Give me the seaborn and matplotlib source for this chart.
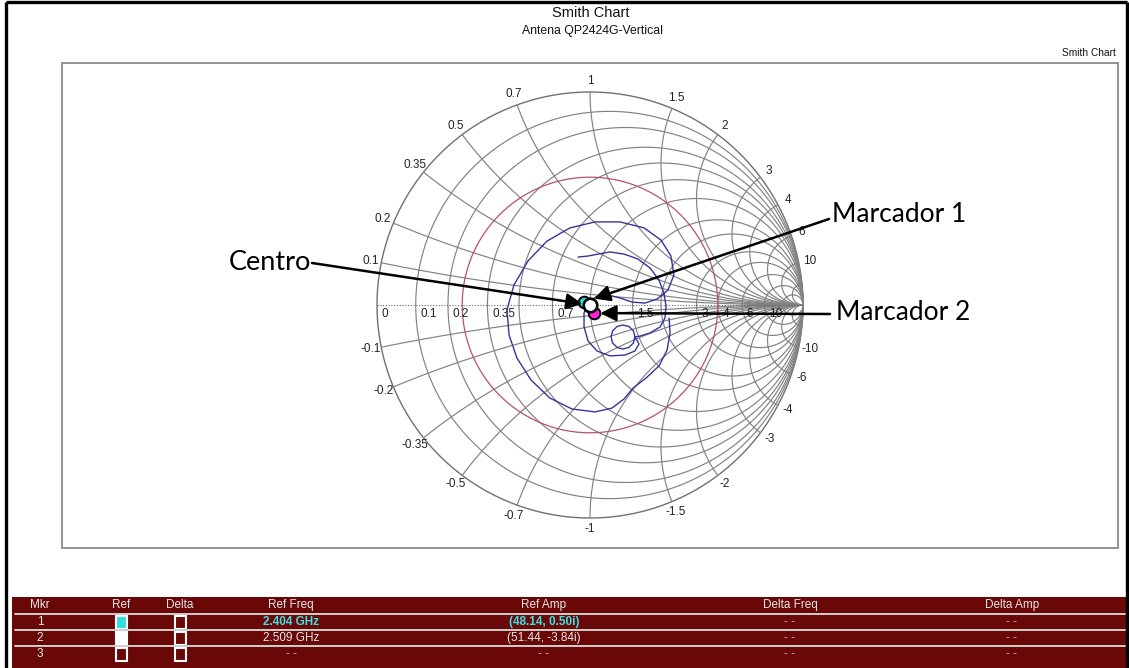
import numpy as np
import matplotlib
matplotlib.use("Agg")
import matplotlib.pyplot as plt
import seaborn as sns
from matplotlib import font_manager
from matplotlib.patches import Rectangle

# ------------------------------------------------------------------ data
title = "Smith Chart"
subtitle = "Antena QP2424G-Vertical"
corner_label = "Smith Chart"

resistance_values = [0.1, 0.2, 0.35, 0.5, 0.7, 1, 1.5, 2, 3, 4, 6, 10, 20]
reactance_values = [0.1, 0.2, 0.35, 0.5, 0.7, 1, 1.5, 2, 3, 4, 6, 10, 20]
resistance_labels = ["0", "0.1", "0.2", "0.35", "0.7", "1.5", "3", "4", "6", "10"]
reactance_labels = ["0.1", "0.2", "0.35", "0.5", "0.7", "1", "1.5", "2", "3", "4", "6", "10"]
vswr_gamma = 0.6

trace_re = [-0.056, -0.009, 0.038, 0.094, 0.160, 0.225, 0.282, 0.324, 0.347, 0.357,
            0.352, 0.329, 0.282, 0.235,
            0.211, 0.204, 0.183, 0.155, 0.127, 0.106, 0.099, 0.106, 0.127, 0.155,
            0.183, 0.204, 0.211, 0.230, 0.211, 0.164,
            0.094, 0.033, -0.009, -0.028, -0.028, -0.009, 0.028, 0.085, 0.141, 0.197,
            0.258, 0.315, 0.366, 0.394, 0.380, 0.333, 0.254, 0.141, 0.023, -0.094,
            -0.202, -0.291, -0.357, -0.390, -0.380, -0.343, -0.277, -0.188, -0.085, 0.023,
            0.103, 0.160, 0.202, 0.263, 0.324, 0.362, 0.376, 0.371]
trace_im = [0.225, 0.230, 0.239, 0.249, 0.239, 0.216, 0.174, 0.117, 0.056, -0.005,
            -0.061, -0.103, -0.131, -0.146,
            -0.150, -0.178, -0.199, -0.207, -0.199, -0.178, -0.150, -0.122, -0.101, -0.094,
            -0.101, -0.122, -0.150, -0.183, -0.216, -0.235,
            -0.239, -0.216, -0.169, -0.103, -0.038, 0.014, 0.038, 0.047, 0.033, 0.014,
            0.009, 0.028, 0.070, 0.141, 0.230, 0.305, 0.362, 0.390, 0.390, 0.362,
            0.300, 0.207, 0.094, -0.023, -0.141, -0.249, -0.352, -0.437, -0.488, -0.502,
            -0.484, -0.441, -0.390, -0.343, -0.286, -0.211, -0.131, -0.061]

# marker positions on the chart (reflection coefficient)
marker_gamma_re = [-0.028, 0.019]
marker_gamma_im = [0.014, -0.038]
center_gamma = [0.0, 0.0]

table_header = ["Mkr", "Ref", "Delta", "Ref Freq", "Ref Amp", "Delta Freq", "Delta Amp"]
table_mkr = ["1", "2", "3"]
table_ref_freq = ["2.404 GHz", "2.509 GHz", "--"]
table_ref_amp = ["(48.14, 0.50i)", "(51.44, -3.84i)", "--"]
table_delta_freq = ["--", "--", "--"]
table_delta_amp = ["--", "--", "--"]
annotation_texts = ["Centro", "Marcador 1", "Marcador 2"]

# ------------------------------------------------------------------ fonts
def has_font(name):
    try:
        font_manager.findfont(font_manager.FontProperties(family=name),
                              fallback_to_default=False)
        return True
    except Exception:
        return False

ARIAL = "Liberation Sans"
CAL = "Lato" if has_font("Lato") else "DejaVu Sans"

sns.set_style("white")
plt.rcParams["font.family"] = [ARIAL, "DejaVu Sans"]

W, H = 1129, 668
fig = plt.figure(figsize=(W / 100, H / 100), dpi=100)
fig.patch.set_facecolor("white")

# overlay in pixel coordinates (frame, titles, table, callout texts)
ov = fig.add_axes([0, 0, 1, 1], zorder=0)
ov.set_xlim(0, W)
ov.set_ylim(H, 0)
ov.axis("off")
ov.patch.set_visible(False)

# outer black frame
ov.plot([6, 6], [2, H + 5], color="black", lw=2.4, solid_capstyle="butt")
ov.plot([6, 1127], [2, 2], color="black", lw=2.4, solid_capstyle="butt")
ov.plot([1127, 1127], [2, H + 5], color="black", lw=2.4, solid_capstyle="butt")
# plot box
ov.add_patch(Rectangle((62, 63), 1118 - 62, 548 - 63, fill=False,
                       edgecolor="#8a8a8a", lw=1.3))

ov.text(591, 13, title, ha="center", va="center", fontsize=10.5, color="#111")
ov.text(593, 31, subtitle, ha="center", va="center", fontsize=8.8, color="#111")
ov.text(1116, 53, corner_label, ha="right", va="center", fontsize=7.3, color="#111")

# ------------------------------------------------------------------ Smith chart axes
CX, CY, R = 590, 305, 213
span = 1.25
half = span * R
ax = fig.add_axes([(CX - half) / W, (H - CY - half) / H, 2 * half / W, 2 * half / H],
                  zorder=1)
ax.set_xlim(-span, span)
ax.set_ylim(-span, span)
ax.axis("off")
ax.patch.set_visible(False)

grid_c = "#828282"
th = np.linspace(0, 2 * np.pi, 721)
ax.plot(np.cos(th), np.sin(th), color="#707070", lw=1.0, zorder=1)
for r in resistance_values:
    c, rad = r / (1 + r), 1 / (1 + r)
    ax.plot(c + rad * np.cos(th), rad * np.sin(th), color=grid_c, lw=0.85, zorder=1)
rp = np.concatenate([[0], np.logspace(-3, 4, 800)])
for x in reactance_values:
    for s in (1, -1):
        g = (rp + 1j * s * x - 1) / (rp + 1j * s * x + 1)
        ax.plot(g.real, g.imag, color=grid_c, lw=0.85, zorder=1)
ax.plot([-1, 1], [0, 0], color="#666666", lw=0.8, ls=(0, (1, 1.5)), zorder=1)
ax.plot(vswr_gamma * np.cos(th), vswr_gamma * np.sin(th), color="#b9516a", lw=0.9, zorder=2)

for lab in resistance_labels:
    r = float(lab)
    gx = (r - 1) / (r + 1)
    ax.text(gx + 0.022, -0.04, lab, ha="left", va="center", fontsize=8.5,
            color="#222", zorder=3)
for lab in reactance_labels:
    x = float(lab)
    for s in (1, -1):
        g = (1j * s * x - 1) / (1j * s * x + 1)
        p = g * 1.052
        txt = lab if s > 0 else "-" + lab
        ax.text(p.real, p.imag, txt, ha="center", va="center", fontsize=8.5,
                color="#222", zorder=3)

sns.lineplot(x=trace_re, y=trace_im, sort=False, estimator=None, ax=ax,
             color="#34349e", lw=1.0, zorder=4)

sns.scatterplot(x=[marker_gamma_re[0]], y=[marker_gamma_im[0]], s=70, color="#22e0e0",
                edgecolor="black", linewidth=1.4, ax=ax, zorder=6)
sns.scatterplot(x=[marker_gamma_re[1]], y=[marker_gamma_im[1]], s=70, color="#ff22dd",
                edgecolor="black", linewidth=1.4, ax=ax, zorder=6)
sns.scatterplot(x=[center_gamma[0]], y=[center_gamma[1]], s=95, color="white",
                edgecolor="black", linewidth=1.9, ax=ax, zorder=7)

arrow = dict(arrowstyle="-|>", color="black", lw=1.8, mutation_scale=24, shrinkA=0)
ax.annotate("", xy=(center_gamma[0], center_gamma[1]), xytext=(312, H - 263),
            textcoords="figure pixels", arrowprops=dict(**arrow, shrinkB=5.5), zorder=8)
ax.annotate("", xy=(marker_gamma_re[0], marker_gamma_im[0]), xytext=(829, H - 219),
            textcoords="figure pixels", arrowprops=dict(**arrow, shrinkB=7.5), zorder=8)
ax.annotate("", xy=(marker_gamma_re[1], marker_gamma_im[1]), xytext=(830, H - 314),
            textcoords="figure pixels", arrowprops=dict(**arrow, shrinkB=4.5), zorder=8)

ov.text(311, 262, annotation_texts[0], ha="right", va="center", fontsize=19.5, family=CAL, color="black")
ov.text(832, 214, annotation_texts[1], ha="left", va="center", fontsize=19, family=CAL, color="black")
ov.text(836, 312, annotation_texts[2], ha="left", va="center", fontsize=19, family=CAL, color="black")

# ------------------------------------------------------------------ marker table
tbl_c = "#6a0707"
top, bot, left, right = 597, H + 2, 12, W + 2
ov.add_patch(Rectangle((left, top), right - left, bot - top, facecolor=tbl_c, edgecolor="none"))
col_x = [40, 121, 180, 291, 544, 790, 1012]
row_y = [622, 638, 654]
for y in (614, 630, 646):
    ov.plot([15, 1125], [y, y], color="#d0d0d0", lw=1.4)
for cx, h in zip(col_x, table_header):
    ov.text(cx, 605, h, ha="center", va="center", fontsize=8.5, color="#e6e6e6")


def dash(v):
    return " ".join(v) if v == "--" else v


ref_fill = ["#33dede", "white", tbl_c]
for i, ry in enumerate(row_y):
    ov.text(col_x[0], ry, table_mkr[i], ha="center", va="center", fontsize=8.5, color="#e6e6e6")
    ov.add_patch(Rectangle((col_x[1] - 5.5, ry - 6.5), 11, 13, facecolor=ref_fill[i],
                           edgecolor="white", lw=1.5))
    ov.add_patch(Rectangle((col_x[2] - 5.5, ry - 6.5), 11, 13, facecolor=tbl_c,
                           edgecolor="white", lw=1.5))
    hi = i == 0
    for cx, vals in ((col_x[3], table_ref_freq), (col_x[4], table_ref_amp)):
        v = vals[i]
        if v == "--":
            col, wt = "#b0b0b0", "normal"
        else:
            col, wt = ("#3ee0e8", "bold") if hi else ("#e6e6e6", "normal")
        ov.text(cx, ry, dash(v), ha="center", va="center", fontsize=8.5, color=col, fontweight=wt)
    ov.text(col_x[5], ry, dash(table_delta_freq[i]), ha="center", va="center", fontsize=8.5,
            color="#b0b0b0")
    ov.text(col_x[6], ry, dash(table_delta_amp[i]), ha="center", va="center", fontsize=8.5,
            color="#b0b0b0")

fig.savefig("out.png", dpi=100, facecolor="white")
